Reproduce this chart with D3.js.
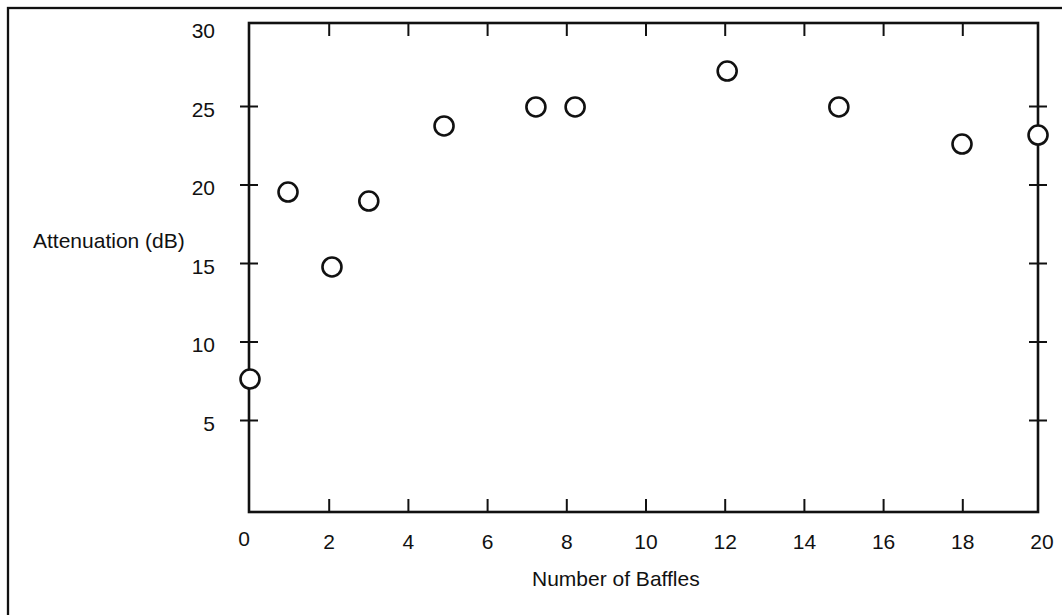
<!DOCTYPE html>
<html>
<head>
<meta charset="utf-8">
<script src="https://cdn.jsdelivr.net/npm/d3@7"></script>
<style>
  body { margin: 0; background: #fff; }
  text { font-family: "Liberation Sans", Arial, sans-serif; font-size: 21px; fill: #111; }
</style>
</head>
<body>
<div id="scatter"></div>
<script>
  // values
  var baffles = [0, 0.96, 2.07, 3.0, 4.9, 7.22, 8.21, 12.05, 14.87, 17.98, 19.9];
  var attenuation = [7.64, 19.55, 14.78, 18.98, 23.76, 24.97, 24.97, 27.26, 24.97, 22.61, 23.18];

  var xTicks = [0, 2, 4, 6, 8, 10, 12, 14, 16, 18, 20];
  var yTicks = [5, 10, 15, 20, 25];
  var yLabels = [5, 10, 15, 20, 25, 30];

  var svgWidth = 1062;
  var svgHeight = 615;

  // plot box
  var box = { left: 249, right: 1038, top: 23, bottom: 512 };

  var svg = d3.select("#scatter")
    .append("svg")
    .attr("width", svgWidth)
    .attr("height", svgHeight);

  // outer frame (only top and left edges fall inside the picture)
  svg.append("rect")
    .attr("x", 8)
    .attr("y", 8)
    .attr("width", svgWidth + 20)
    .attr("height", svgHeight + 20)
    .attr("fill", "none")
    .attr("stroke", "#111")
    .attr("stroke-width", 2.3);

  var points = baffles.map(function(b, i) {
    return { x: b, y: attenuation[i] };
  });

  // scales
  var xScale = d3.scaleLinear()
    .domain([0, 20])
    .range([250, 1042]);

  var yScale = d3.scaleLinear()
    .domain([0, 30])
    .range([499, 28]);

  // plot box
  svg.append("rect")
    .attr("x", box.left)
    .attr("y", box.top)
    .attr("width", box.right - box.left)
    .attr("height", box.bottom - box.top)
    .attr("fill", "none")
    .attr("stroke", "#111")
    .attr("stroke-width", 2.6);

  // x ticks, bottom and top, pointing inward
  var inner = xTicks.filter(function(d) { return d > 0 && d < 20; });

  svg.selectAll(".xtickb")
    .data(inner)
    .enter()
    .append("line")
    .attr("x1", d => xScale(d))
    .attr("x2", d => xScale(d))
    .attr("y1", box.bottom)
    .attr("y2", box.bottom - 13)
    .attr("stroke", "#111")
    .attr("stroke-width", 2);

  svg.selectAll(".xtickt")
    .data(inner)
    .enter()
    .append("line")
    .attr("x1", d => xScale(d))
    .attr("x2", d => xScale(d))
    .attr("y1", box.top)
    .attr("y2", box.top + 13)
    .attr("stroke", "#111")
    .attr("stroke-width", 2);

  // y ticks crossing left and right edges
  [box.left, box.right].forEach(function(xe) {
    svg.selectAll(null)
      .data(yTicks)
      .enter()
      .append("line")
      .attr("x1", xe - 9)
      .attr("x2", xe + 9)
      .attr("y1", d => yScale(d))
      .attr("y2", d => yScale(d))
      .attr("stroke", "#111")
      .attr("stroke-width", 2);
  });

  // tick labels
  svg.selectAll(".xlabel")
    .data(xTicks)
    .enter()
    .append("text")
    .attr("x", d => xScale(d) - (d === 0 ? 6 : 0))
    .attr("y", d => d === 0 ? 546 : 549)
    .attr("text-anchor", "middle")
    .text(d => d);

  svg.selectAll(".ylabel")
    .data(yLabels)
    .enter()
    .append("text")
    .attr("x", 215)
    .attr("y", d => yScale(d) + 10)
    .attr("text-anchor", "end")
    .text(d => d);

  // axis titles
  svg.append("text")
    .attr("x", 33)
    .attr("y", 248)
    .text("Attenuation (dB)");

  svg.append("text")
    .attr("x", 532)
    .attr("y", 586)
    .text("Number of Baffles");

  // data points
  svg.selectAll("circle")
    .data(points)
    .enter()
    .append("circle")
    .attr("cx", d => xScale(d.x))
    .attr("cy", d => yScale(d.y))
    .attr("r", 9.5)
    .attr("fill", "#fff")
    .attr("stroke", "#111")
    .attr("stroke-width", 2.6);
</script>
</body>
</html>
